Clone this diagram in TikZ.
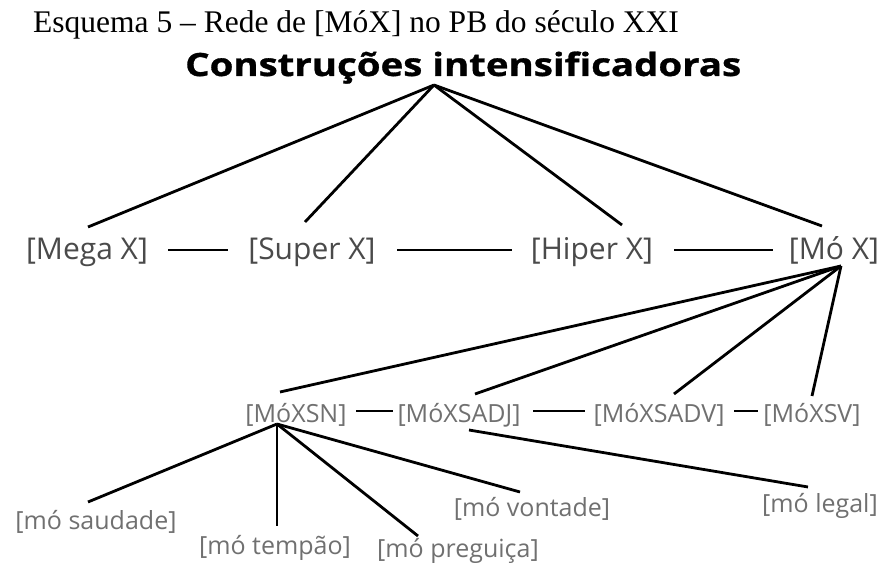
\documentclass[tikz,border=0pt]{standalone}
\usepackage{fontspec}
\setmainfont{Open Sans}
\newfontfamily\capfont{Liberation Serif}
\newfontfamily\osfont{Open Sans}
\newfontfamily\headfont{Open Sans}[FakeStretch=1.2, BoldFeatures={FakeBold=1}]
\usetikzlibrary{calc}
\definecolor{lvtwoc}{HTML}{4A4A4A}
\definecolor{lvthreec}{HTML}{707070}
\begin{document}
\begin{tikzpicture}[x=1pt,y=-1pt,
  conn/.style={line width=2.8pt, black},
  lvtwo/.style={font=\osfont\fontsize{30}{36}\selectfont, text=lvtwoc, inner sep=0pt, anchor=base},
  lvthree/.style={font=\osfont\fontsize{25}{30}\selectfont, text=lvthreec, inner sep=0pt, anchor=base}]
\useasboundingbox (0,0) rectangle (884,569);
\node[anchor=base west, inner sep=0pt, font=\capfont\fontsize{31.5}{36}\selectfont] (title) at (33,33) {Esquema 5 – Rede de [MóX] no PB do século XXI};
\node[anchor=base west, inner sep=0pt, font=\headfont\bfseries\fontsize{32}{38}\selectfont] (head) at (185,76) {Construções intensificadoras};
\coordinate (apex) at ($(head.base west)+(249,9)$);
% level 2
\node[lvtwo] (mega) at (87,260) {[Mega X]};
\node[lvtwo] (super) at (312,260) {[Super X]};
\node[lvtwo] (hiper) at (592,260) {[Hiper X]};
\node[lvtwo] (mox) at (834,260) {[Mó X]};
\draw[conn] (apex) -- ($(mega.base)+(1,-33)$);
\draw[conn] (apex) -- ($(super.base)+(-7,-38)$);
\draw[conn] (apex) -- ($(hiper.base)+(30,-35)$);
\draw[conn] (apex) -- ($(mox.base)+(-12,-34)$);
\draw[conn] ($(mega.base)+(81,-10)$) -- ($(super.base)+(-84,-10)$);
\draw[conn] ($(super.base)+(85,-10)$) -- ($(hiper.base)+(-80,-10)$);
\draw[conn] ($(hiper.base)+(82,-10)$) -- ($(mox.base)+(-61,-10)$);
\coordinate (fan) at ($(mox.base)+(7,6)$);
% level 3
\node[lvthree] (sn) at (296,422) {[MóXSN]};
\node[lvthree] (sadj) at (459,422) {[MóXSADJ]};
\node[lvthree] (sadv) at (659,422) {[MóXSADV]};
\node[lvthree] (sv) at (812,422) {[MóXSV]};
\draw[conn] (fan) -- ($(sn.base)+(-16,-30)$);
\draw[conn] (fan) -- ($(sadj.base)+(16,-28)$);
\draw[conn] (fan) -- ($(sadv.base)+(15,-28)$);
\draw[conn] (fan) -- ($(sv.base)+(0,-26)$);
\draw[conn] ($(sn.base)+(60,-11)$) -- ($(sadj.base)+(-66,-11)$);
\draw[conn] ($(sadj.base)+(74,-11)$) -- ($(sadv.base)+(-74,-11)$);
\draw[conn] ($(sadv.base)+(75,-11)$) -- ($(sv.base)+(-54,-11)$);
\coordinate (snsrc) at ($(sn.base)+(-19,2)$);
\coordinate (sadjsrc) at ($(sadj.base)+(10,8)$);
% leaves
\node[lvthree] (saud) at (96,529) {[mó saudade]};
\node[lvthree] (temp) at (275,554) {[mó tempão]};
\node[lvthree] (preg) at (458,557) {[mó preguiça]};
\node[lvthree] (vont) at (532,516) {[mó vontade]};
\node[lvthree] (legal) at (820,512) {[mó legal]};
\draw[conn] (snsrc) -- ($(saud.base)+(-8,-27)$);
\draw[conn] (snsrc) -- ($(temp.base)+(2,-28)$);
\draw[conn] (snsrc) -- ($(preg.base)+(-40,-21)$);
\draw[conn] (snsrc) -- ($(vont.base)+(-12,-24)$);
\draw[conn] (sadjsrc) -- ($(legal.base)+(-12,-25)$);
\end{tikzpicture}
\end{document}
